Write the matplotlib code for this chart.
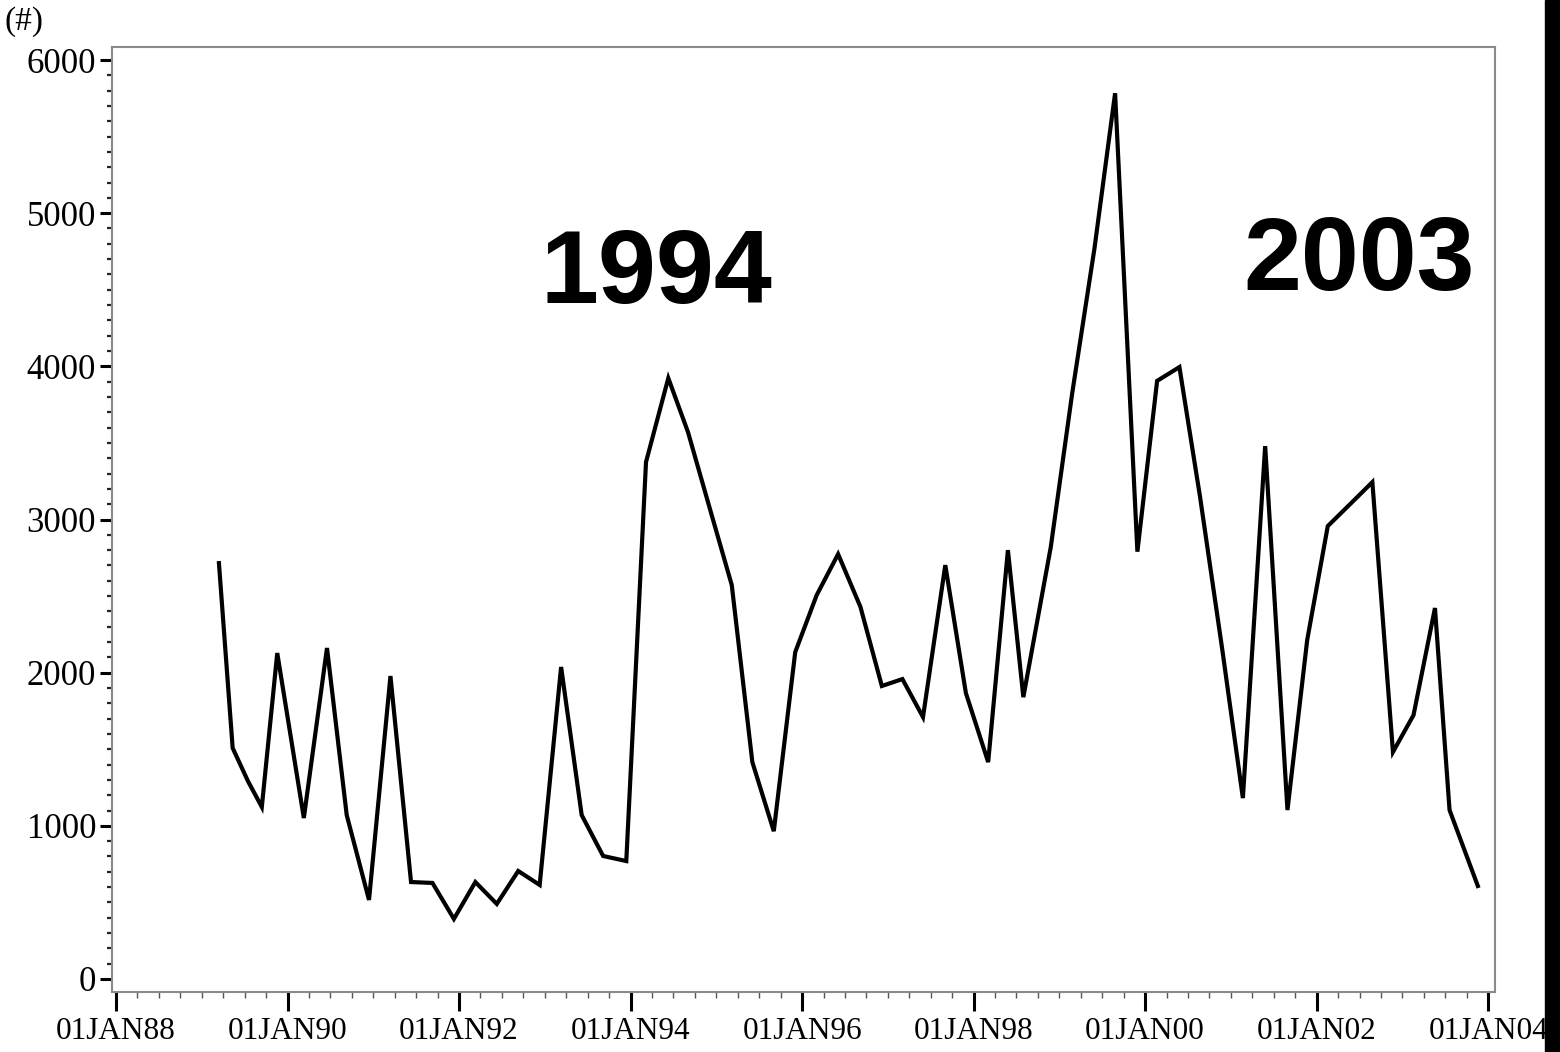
import matplotlib.pyplot as plt
from matplotlib.patches import Rectangle
from matplotlib.ticker import MultipleLocator, FixedLocator
import numpy as np

# Quarterly counts (decimal year, count)
fechas = [1989.20, 1989.36, 1989.54, 1989.70, 1989.88, 1990.19, 1990.46, 1990.69,
          1990.95, 1991.20, 1991.44, 1991.69, 1991.94, 1992.19, 1992.44, 1992.69,
          1992.94, 1993.19, 1993.43, 1993.68, 1993.95, 1994.18, 1994.44, 1994.67,
          1994.93, 1995.18, 1995.42, 1995.67, 1995.92, 1996.17, 1996.42, 1996.68,
          1996.93, 1997.17, 1997.41, 1997.67, 1997.91, 1998.17, 1998.40, 1998.58,
          1998.90, 1999.15, 1999.41, 1999.65, 1999.91, 2000.14, 2000.40, 2000.64,
          2000.90, 2001.14, 2001.40, 2001.66, 2001.89, 2002.13, 2002.39, 2002.65,
          2002.89, 2003.13, 2003.38, 2003.55, 2003.88]
conteos = [2715, 1508, 1290, 1123, 2128, 1051, 2161, 1070,
           516, 1978, 633, 627, 392, 633, 490, 705,
           614, 2037, 1070, 803, 770, 3375, 3923, 3570,
           3060, 2572, 1416, 965, 2134, 2506, 2774, 2430,
           1913, 1958, 1710, 2702, 1867, 1416, 2800, 1840,
           2820, 3825, 4772, 5783, 2790, 3905, 3995, 3150,
           2150, 1181, 3479, 1103, 2213, 2957, 3100, 3244,
           1482, 1723, 2422, 1103, 607]

anios_marca = list(range(1988, 2005, 2))
etiquetas_x = ["01JAN%02d" % (a % 100) for a in anios_marca]

W, H = 1560, 1052
fig = plt.figure(figsize=(W / 100, H / 100), dpi=100)
ax = fig.add_axes([112 / W, 1 - 992 / H, (1495 - 112) / W, (992 - 47) / H])

ax.plot(fechas, conteos, color='black', linewidth=3.0, solid_joinstyle='miter')

ax.set_xlim(1987.953, 2004.08)
ax.set_ylim(-85, 6085)

fuente_ejes = 'Liberation Serif'
ax.xaxis.set_major_locator(FixedLocator(anios_marca))
ax.set_xticklabels(etiquetas_x, fontsize=22.5, family=fuente_ejes)
ax.xaxis.set_minor_locator(MultipleLocator(0.25))
ax.yaxis.set_major_locator(MultipleLocator(1000))
ax.yaxis.set_minor_locator(MultipleLocator(100))
for lbl in ax.get_yticklabels():
    lbl.set_family(fuente_ejes)
    lbl.set_fontsize(25)

ax.tick_params(axis='x', which='major', direction='out', length=14, width=2.2, pad=4, color='black')
ax.tick_params(axis='x', which='minor', direction='out', length=4, width=1, color='#555555')
ax.tick_params(axis='y', which='major', direction='out', length=8.5, width=2.2, pad=3, color='black')
ax.tick_params(axis='y', which='minor', direction='out', length=3.6, width=1.6, color='#222222')

for lado in ['left', 'right', 'top', 'bottom']:
    ax.spines[lado].set_color('#8a8a8a')
    ax.spines[lado].set_linewidth(1.5)

# Años destacados
ax.text(1994.30, 4414, "1994", ha='center', va='baseline', fontsize=75,
        fontweight='bold', family='Liberation Sans')
ax.text(2002.50, 4499, "2003", ha='center', va='baseline', fontsize=75,
        fontweight='bold', family='Liberation Sans')

fig.text(4 / W, 1 - 22 / H, "(#)", ha='left', va='center', fontsize=24, family=fuente_ejes)

# Franja negra del borde derecho
fig.add_artist(Rectangle((1545 / W, 0), 15 / W, 1, transform=fig.transFigure,
                         color='black', zorder=10))

fig.savefig("out.png", dpi=100)
